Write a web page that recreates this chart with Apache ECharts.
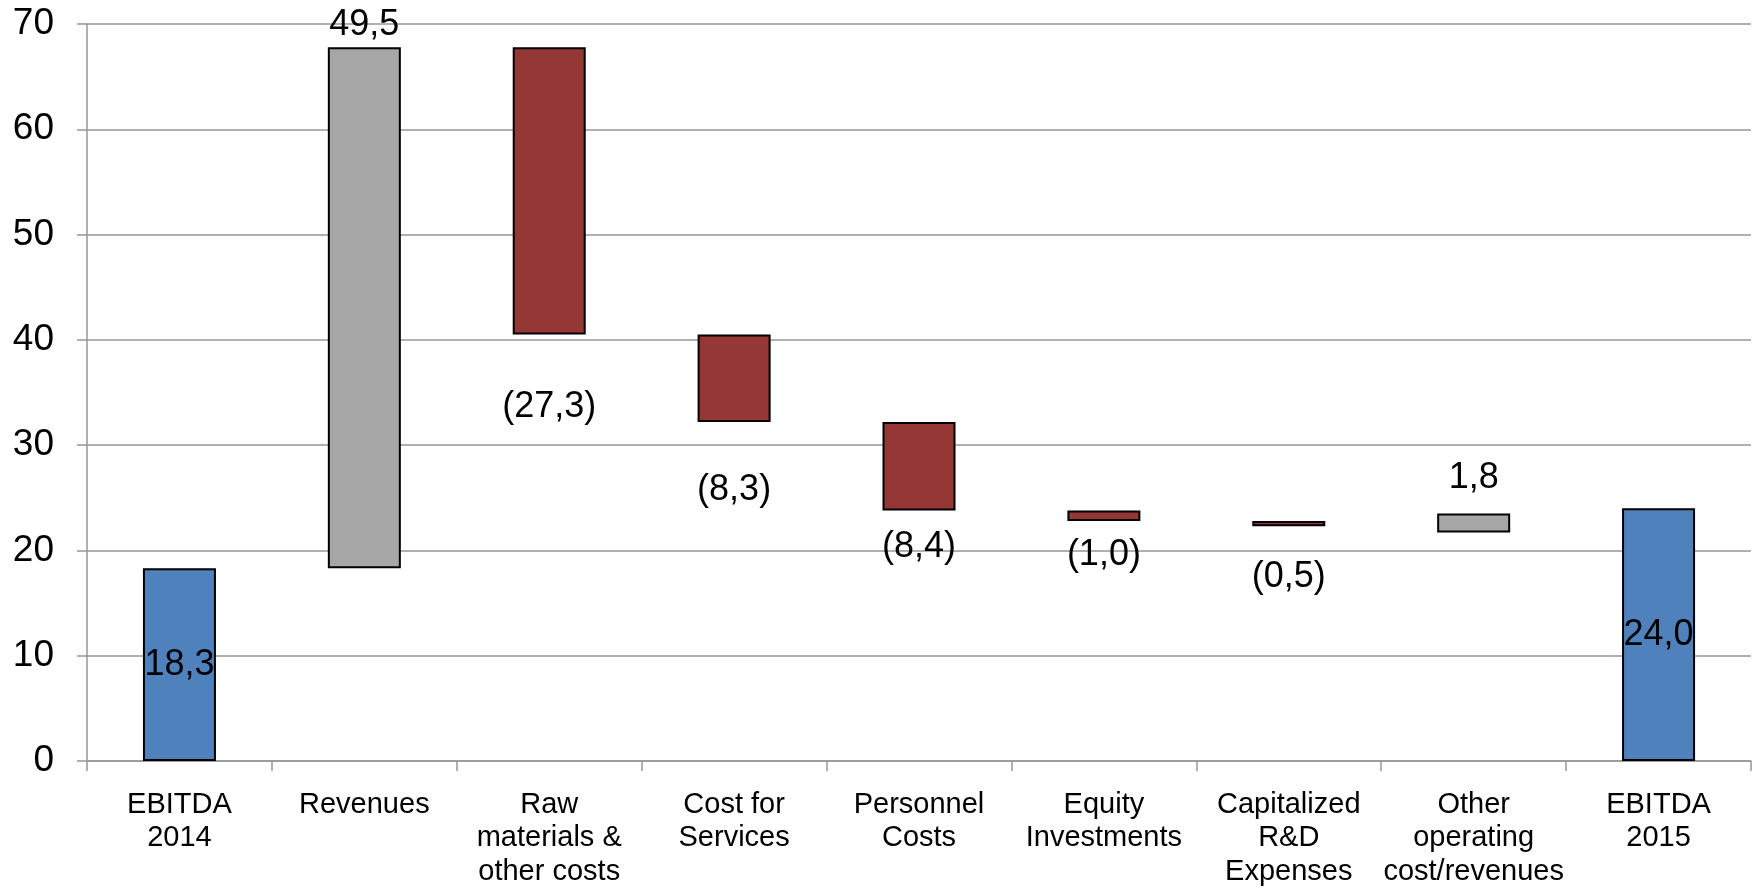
<!DOCTYPE html>
<html>
<head>
<meta charset="utf-8">
<script src="https://cdn.jsdelivr.net/npm/echarts@6/dist/echarts.min.js"></script>
<style>
  html, body { margin: 0; padding: 0; background: #ffffff; }
  #chart { width: 1758px; height: 888px; }
</style>
</head>
<body>
<div id="chart"></div>
<script>
// EBITDA bridge 2014 -> 2015 (EUR m)
const categories = [
  'EBITDA\n2014',
  'Revenues',
  'Raw\nmaterials &\nother costs',
  'Cost for\nServices',
  'Personnel\nCosts',
  'Equity\nInvestments',
  'Capitalized\nR&D\nExpenses',
  'Other\noperating\ncost/revenues',
  'EBITDA\n2015'
];

// signed change of each step (totals are positive)
const changes = [18.3, 49.5, -27.3, -8.3, -8.4, -1.0, -0.5, 1.8, 24.0];

// lower edge of each floating bar
const barBases = [0, 18.3, 40.5, 32.2, 23.8, 22.8, 22.3, 21.7, 0];

// step type: total / increase / decrease
const stepKinds = ['total', 'increase', 'decrease', 'decrease', 'decrease',
                   'decrease', 'decrease', 'increase', 'total'];

const yMin = 0, yMax = 70, yStep = 10;

const kindColors = { total: '#4f81bd', increase: '#a6a6a6', decrease: '#953735' };

// where each value label sits relative to its bar
const labelPlacement = [
  { position: 'inside' },
  { position: 'top', distance: 4 },
  { position: 'bottom', distance: 54 },
  { position: 'bottom', distance: 50 },
  { position: 'bottom', distance: 19 },
  { position: 'bottom', distance: 16 },
  { position: 'bottom', distance: 33 },
  { position: 'top', distance: 18 },
  { position: 'inside' }
];

function formatValue(v) {
  const s = Math.abs(v).toFixed(1).replace('.', ',');
  return v < 0 ? '(' + s + ')' : s;
}

const FONT = '"Liberation Sans", Arial, sans-serif';

const stepData = changes.map((v, i) => ({
  value: Math.abs(v),
  itemStyle: { color: kindColors[stepKinds[i]] },
  label: Object.assign({
    show: true,
    formatter: formatValue(v),
    fontSize: 36,
    fontFamily: FONT,
    color: '#000000'
  }, labelPlacement[i])
}));

const chart = echarts.init(document.getElementById('chart'), null, { renderer: 'canvas' });

chart.setOption({
  animation: false,
  backgroundColor: '#ffffff',
  grid: {
    left: 87, right: 7, top: 24, bottom: 127,
    containLabel: false,
    outerBoundsMode: 'none'
  },
  xAxis: {
    type: 'category',
    data: categories,
    boundaryGap: true,
    axisLine: { show: true, lineStyle: { color: '#969696', width: 1.5 } },
    axisTick: { show: true, alignWithLabel: false, length: 10, lineStyle: { color: '#969696', width: 1.5 } },
    axisLabel: {
      interval: 0,
      fontSize: 29,
      lineHeight: 33.5,
      fontFamily: FONT,
      color: '#000000',
      margin: 27
    },
    splitLine: { show: false }
  },
  yAxis: {
    type: 'value',
    min: yMin,
    max: yMax,
    interval: yStep,
    axisLine: { show: true, lineStyle: { color: '#969696', width: 1.5 } },
    axisTick: { show: true, length: 10, lineStyle: { color: '#969696', width: 1.5 } },
    axisLabel: {
      fontSize: 37,
      fontFamily: FONT,
      color: '#000000',
      margin: 33
    },
    splitLine: { show: true, lineStyle: { color: '#969696', width: 1.5 } }
  },
  series: [
    {
      name: 'base',
      type: 'bar',
      stack: 'bridge',
      barWidth: 73,
      silent: true,
      itemStyle: { color: 'transparent', borderWidth: 0 },
      data: barBases
    },
    {
      name: 'step',
      type: 'bar',
      stack: 'bridge',
      barWidth: 73,
      itemStyle: { borderColor: '#000000', borderWidth: 2 },
      data: stepData
    }
  ]
});
</script>
</body>
</html>
